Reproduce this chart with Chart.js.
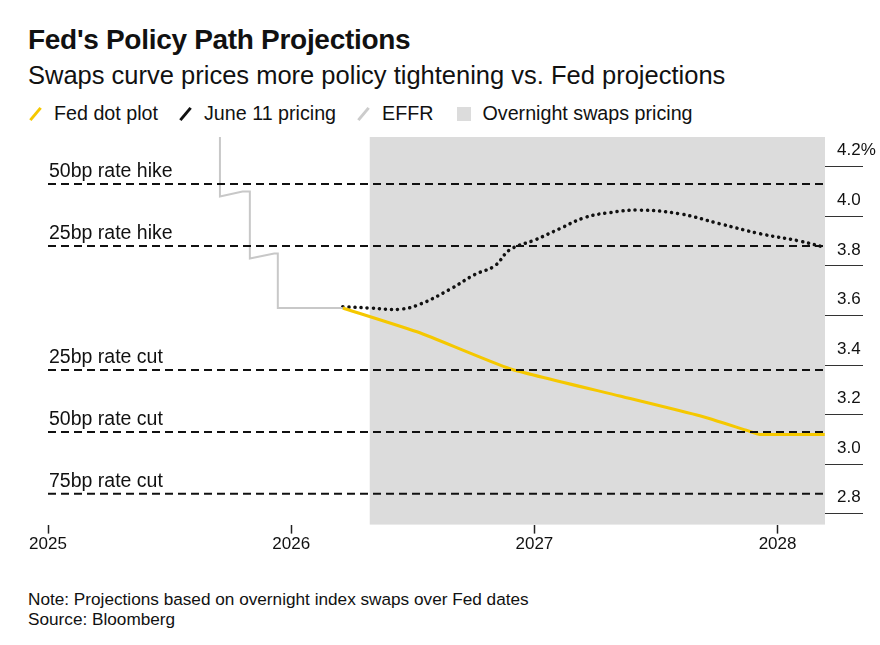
<!DOCTYPE html>
<html>
<head>
<meta charset="utf-8">
<script src="https://cdn.jsdelivr.net/npm/chart.js@4"></script>
<style>
  body { margin:0; width:880px; height:645px; background:#fff; font-family:"Liberation Sans", Arial, sans-serif; color:#111; position:relative; overflow:hidden; }
  #title { position:absolute; left:28px; top:24px; font-size:28px; font-weight:bold; letter-spacing:-0.3px; }
  #sub { position:absolute; left:28px; top:61px; font-size:25.5px; }
  #legend { position:absolute; left:28px; top:102px; font-size:19.7px; display:flex; align-items:center; }
  #legend .sw { display:inline-block; width:3px; height:16px; transform:rotate(40deg); margin:0 17px 0 6px; }
  #legend .box { display:inline-block; width:14px; height:14px; background:#dcdcdc; margin:0 11px 0 4px; }
  #legend span.t { margin-right:20px; }
  #wrap { position:absolute; left:0; top:130px; width:880px; height:426px; }
  #note { position:absolute; left:28px; top:589px; font-size:17.2px; line-height:20px; }
</style>
</head>
<body>
<div id="title">Fed's Policy Path Projections</div>
<div id="sub">Swaps curve prices more policy tightening vs. Fed projections</div>
<div id="legend">
  <i class="sw" style="background:#f5c800"></i><span class="t">Fed dot plot</span>
  <i class="sw" style="background:#111"></i><span class="t">June 11 pricing</span>
  <i class="sw" style="background:#ccc"></i><span class="t">EFFR</span>
  <i class="box"></i><span class="t">Overnight swaps pricing</span>
</div>
<div id="wrap"><canvas id="myChart"></canvas></div>
<div id="note">Note: Projections based on overnight index swaps over Fed dates<br>Source: Bloomberg</div>
<script>
const effrX = [2025.0, 2025.707, 2025.707, 2025.80, 2025.83, 2025.83, 2025.93, 2025.945, 2025.945, 2026.212];
const effrY = [4.33, 4.33, 4.08, 4.10, 4.10, 3.83, 3.85, 3.85, 3.63, 3.63];
const dotX = [2026.212, 2026.529, 2026.899, 2027.351, 2027.680, 2027.877, 2027.927, 2028.194];
const dotY = [3.63, 3.53, 3.385, 3.275, 3.195, 3.135, 3.12, 3.12];
const swapX = [2026.212, 2026.323, 2026.447, 2026.529, 2026.652, 2026.755, 2026.837, 2026.899, 2027.003, 2027.104, 2027.207, 2027.310, 2027.433, 2027.598, 2027.762, 2027.927, 2028.091, 2028.194];
const swapY = [3.635, 3.63, 3.625, 3.645, 3.705, 3.765, 3.80, 3.865, 3.905, 3.95, 3.995, 4.015, 4.025, 4.01, 3.97, 3.93, 3.90, 3.875];
const refLevels = [4.13, 3.88, 3.38, 3.13, 2.88];
const refLabels = ["50bp rate hike", "25bp rate hike", "25bp rate cut", "50bp rate cut", "75bp rate cut"];
const yTicks = [2.8, 3.0, 3.2, 3.4, 3.6, 3.8, 4.0, 4.2];
const xTicks = [2025, 2026, 2027, 2028];
const swapsStart = 2026.323;
const xMin = 2025, xMax = 2028.195;

const pts = (xs, ys) => xs.map((x, i) => ({ x: x, y: ys[i] }));

const refSets = refLevels.map(v => ({
  type: "line",
  data: [{ x: xMin, y: v }, { x: xMax, y: v }],
  borderColor: "#111", borderWidth: 2, borderDash: [8, 5], pointRadius: 0
}));

const shade = {
  id: "shade",
  beforeDatasetsDraw(chart) {
    const { ctx, chartArea: a, scales: { x } } = chart;
    ctx.save();
    ctx.fillStyle = "#dcdcdc";
    const x0 = x.getPixelForValue(swapsStart);
    ctx.fillRect(x0, a.top, a.right - x0, a.bottom - a.top);
    ctx.restore();
  },
  afterDatasetsDraw(chart) {
    const { ctx, chartArea: a, scales: { y } } = chart;
    ctx.save();
    ctx.fillStyle = "#111";
    ctx.font = "19.5px 'Liberation Sans', Arial, sans-serif";
    refLevels.forEach((v, i) => ctx.fillText(refLabels[i], a.left + 1, y.getPixelForValue(v) - 7));
    ctx.restore();
  }
};

new Chart(document.getElementById("myChart"), {
  type: "line",
  data: {
    datasets: [
      ...refSets,
      { data: pts(effrX, effrY), borderColor: "#c8c8c8", borderWidth: 2, pointRadius: 0 },
      { data: pts(dotX, dotY), borderColor: "#f5c800", borderWidth: 3, pointRadius: 0, tension: 0.15 },
      { data: pts(swapX, swapY), borderColor: "#111", borderWidth: 3.5, borderDash: [0.1, 6], borderCapStyle: "round", pointRadius: 0, tension: 0.4 }
    ]
  },
  options: {
    responsive: true, maintainAspectRatio: false, animation: false,
    layout: { padding: { left: 48, top: 7, right: 0 } },
    plugins: { legend: { display: false }, tooltip: { enabled: false } },
    scales: {
      x: {
        type: "linear", min: xMin, max: xMax,
        afterBuildTicks: s => { s.ticks = xTicks.map(v => ({ value: v })); },
        ticks: { color: "#111", font: { size: 17, family: "'Liberation Sans', Arial" }, callback: v => String(v), padding: 1, maxRotation: 0 },
        grid: { drawOnChartArea: false, tickLength: 9, color: "#222", tickWidth: 1.5 },
        border: { display: false }
      },
      y: {
        position: "right", min: 2.756, max: 4.32,
        afterBuildTicks: s => { s.ticks = yTicks.map(v => ({ value: v })); },
        afterFit: s => { s.width = 55; },
        ticks: {
          color: "#111", font: { size: 17, family: "'Liberation Sans', Arial" }, padding: -26, labelOffset: -16,
          callback: v => v === 4.2 ? "4.2%" : v.toFixed(1)
        },
        grid: { drawOnChartArea: false, tickLength: 38, tickColor: "#333", tickWidth: 1.2 },
        border: { display: false }
      }
    }
  },
  plugins: [shade]
});
</script>
</body>
</html>
